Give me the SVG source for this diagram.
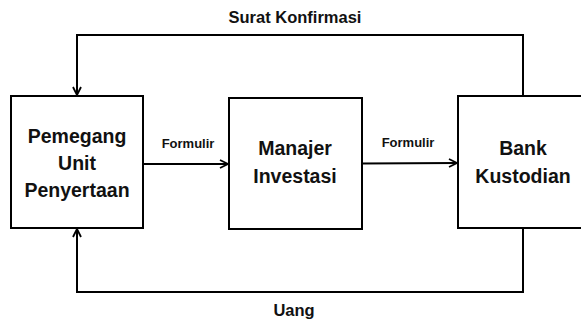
<svg xmlns="http://www.w3.org/2000/svg" width="581" height="324" viewBox="0 0 581 324">
<style>
.box{fill:#fff;stroke:#000;stroke-width:2}
.ln{fill:none;stroke:#000;stroke-width:2}
text{font-family:"Liberation Sans",Arial,sans-serif;font-weight:bold;fill:#111;text-anchor:middle}
.big{font-size:19.5px}
.lbl{font-size:16.5px}
.sm{font-size:13px}
</style>
<defs>
<marker id="arr" viewBox="0 0 10 10" refX="9" refY="5" markerWidth="10" markerHeight="10" markerUnits="userSpaceOnUse" orient="auto">
<path d="M1,1 L9,5 L1,9" fill="none" stroke="#000" stroke-width="1.8"/>
</marker>
</defs>
<rect width="581" height="324" fill="#fff"/>
<g id="connectors">
<line class="ln" x1="143" y1="164" x2="228" y2="164" marker-end="url(#arr)"/>
<line class="ln" x1="362" y1="163.5" x2="457" y2="163" marker-end="url(#arr)"/>
<polyline class="ln" points="523,96 523,35 77,35 77,95" marker-end="url(#arr)"/>
<polyline class="ln" points="523,228 523,292 77,292 77,229" marker-end="url(#arr)"/>
<text class="sm" x="188" y="148">Formulir</text>
<text class="sm" x="408" y="147">Formulir</text>
<text class="lbl" x="295" y="23">Surat Konfirmasi</text>
<text class="lbl" x="294" y="316">Uang</text>
</g>
<g id="pemegang">
<rect class="box" x="11" y="96" width="132" height="132"/>
<text class="big" x="77" y="143">Pemegang</text>
<text class="big" x="77" y="170">Unit</text>
<text class="big" x="77" y="197">Penyertaan</text>
</g>
<g id="manajer">
<rect class="box" x="229" y="98" width="133" height="131"/>
<text class="big" x="295" y="155">Manajer</text>
<text class="big" x="295" y="183">Investasi</text>
</g>
<g id="bank">
<rect class="box" x="458" y="96" width="134" height="132"/>
<text class="big" x="523" y="155">Bank</text>
<text class="big" x="523" y="183">Kustodian</text>
</g>
</svg>
